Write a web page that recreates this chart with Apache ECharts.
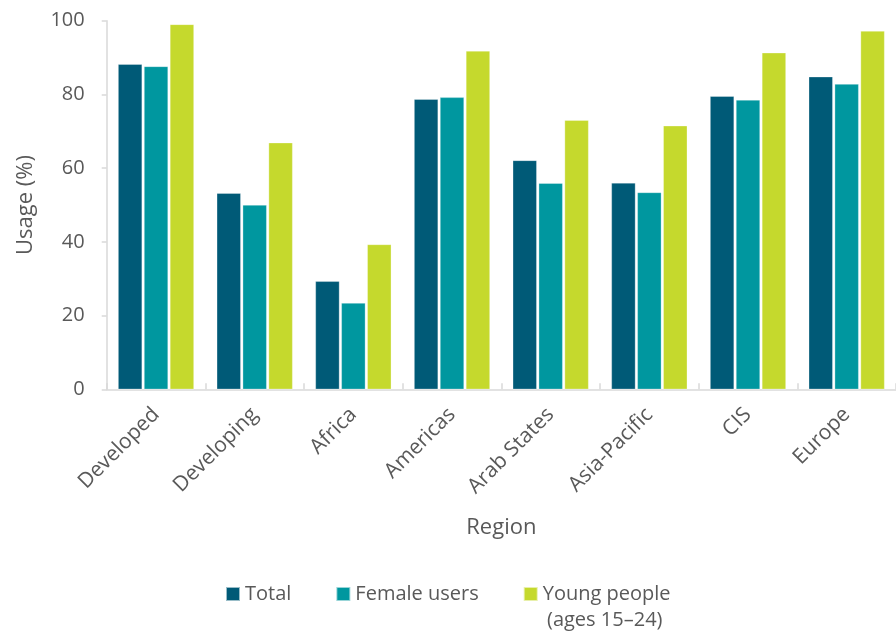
<!DOCTYPE html>
<html>
<head>
<meta charset="utf-8">
<script src="https://cdn.jsdelivr.net/npm/echarts@6/dist/echarts.min.js"></script>
<style>
html,body{margin:0;padding:0;background:#fff;}
#chart{width:896px;height:632px;}
</style>
</head>
<body>
<div id="chart"></div>
<script>
const categories = ['Developed','Developing','Africa','Americas','Arab States','Asia-Pacific','CIS','Europe'];
const seriesNames = ['Total','Female users','Young people'];
const totalValues  = [88.2, 53.2, 29.3, 78.7, 62.1, 56.0, 79.5, 84.8];
const femaleValues = [87.6, 50.0, 23.4, 79.2, 55.9, 53.4, 78.5, 82.8];
const youngValues  = [99.0, 66.9, 39.3, 91.8, 73.0, 71.5, 91.3, 97.2];
const yTicks = [0, 20, 40, 60, 80, 100];
const colors = ['#005A77', '#00979F', '#C5D92D'];
const FONT = 'Open Sans';
const GREY = '#595959';

const chart = echarts.init(document.getElementById('chart'), null, {renderer:'canvas'});
const dataSets = [totalValues, femaleValues, youngValues];
chart.setOption({
  animation: false,
  textStyle: {fontFamily: FONT},
  grid: {left: 106.7, top: 20.7, width: 800, height: 368.6, containLabel: false},
  legend: {
    left: 220, top: 579,
    itemWidth: 14, itemHeight: 14, itemGap: 44,
    icon: 'rect',
    textStyle: {fontFamily: FONT, fontSize: 20, color: GREY},
    data: seriesNames
  },
  graphic: [{
    type: 'text', left: 547, top: 610,
    style: {text: '(ages 15\u201324)', font: '20px "Open Sans"', fill: GREY}
  }],
  xAxis: {
    type: 'category',
    data: categories,
    name: 'Region',
    nameLocation: 'middle',
    nameGap: 127,
    nameTextStyle: {fontFamily: FONT, fontSize: 22, color: GREY},
    axisLine: {lineStyle: {color: '#D9D9D9', width: 1.5}},
    axisTick: {show: true, inside: true, length: 6, lineStyle: {color: '#D9D9D9', width: 1.5}},
    axisLabel: {rotate: 45, fontFamily: FONT, fontSize: 21, color: GREY, margin: 22, interval: 0}
  },
  yAxis: {
    type: 'value',
    min: yTicks[0], max: yTicks[yTicks.length-1], interval: yTicks[1]-yTicks[0],
    name: 'Usage (%)',
    nameLocation: 'middle',
    nameGap: 70,
    nameTextStyle: {fontFamily: FONT, fontSize: 22, color: GREY},
    axisLine: {show: true, lineStyle: {color: '#D9D9D9', width: 1.5}},
    axisTick: {show: true, inside: false, length: 5, lineStyle: {color: '#D9D9D9', width: 1.5}},
    splitLine: {show: false},
    axisLabel: {fontFamily: FONT, fontSize: 20, color: GREY, margin: 22}
  },
  series: seriesNames.map((n, i) => ({
    name: n,
    type: 'bar',
    data: dataSets[i],
    barWidth: 24,
    barGap: '8%',
    itemStyle: {color: colors[i], borderColor: 'rgba(255,255,255,0.6)', borderWidth: 0.5}
  }))
});
</script>
</body>
</html>
